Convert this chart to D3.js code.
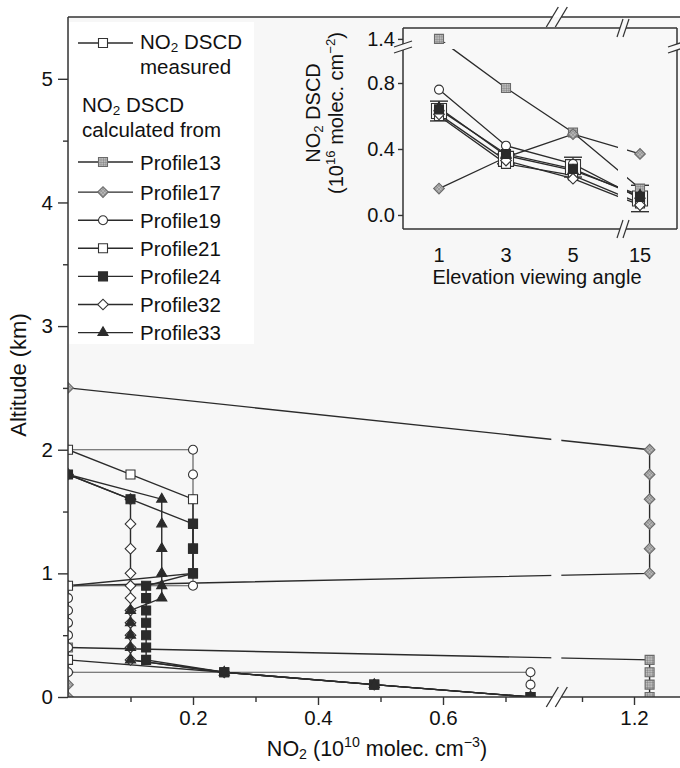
<!DOCTYPE html>
<html>
<head>
<meta charset="utf-8">
<script src="https://cdn.jsdelivr.net/npm/d3@7"></script>
<style>
body { margin: 0; background: #fff; }
text { font-family: "Liberation Sans", Arial, sans-serif; fill: #111; }
</style>
</head>
<body>
<svg id="chart"></svg>
<script>
const profileNames = ["Profile13", "Profile17", "Profile19", "Profile21", "Profile24", "Profile32", "Profile33"];

// NO2 profiles, [concentration (1e10 molec cm-3), altitude (km)]
const profile13 = [[0, 0.4], [1.23, 0.3], [1.23, 0.2], [1.23, 0.1], [1.23, 0]];
const profile17 = [[0, 2.5], [1.23, 2.0], [1.23, 1.8], [1.23, 1.6], [1.23, 1.4], [1.23, 1.2], [1.23, 1.0], [0, 0.9], [0, 0.2], [0, 0.1], [0, 0]];
const profile19 = [[0, 2.0], [0.2, 2.0], [0.2, 1.8], [0.2, 1.6], [0.2, 1.4], [0.2, 1.2], [0.2, 1.0], [0.2, 0.9], [0, 0.9], [0, 0.8], [0, 0.7], [0, 0.6], [0, 0.5], [0, 0.4], [0, 0.3], [0, 0.2], [0.74, 0.2], [0.74, 0.1], [0.74, 0]];
const profile21 = [[0, 2.0], [0.1, 1.8], [0.2, 1.6], [0.2, 1.4], [0.2, 1.2], [0.2, 1.0], [0, 0.9], [0, 0.3], [0.25, 0.2], [0.49, 0.1], [0.74, 0]];
const profile24 = [[0, 1.8], [0.1, 1.6], [0.2, 1.4], [0.2, 1.2], [0.2, 1.0], [0.125, 0.9], [0.125, 0.8], [0.125, 0.7], [0.125, 0.6], [0.125, 0.5], [0.125, 0.4], [0.125, 0.3], [0.25, 0.2], [0.49, 0.1], [0.74, 0]];
const profile32 = [[0, 1.8], [0.1, 1.6], [0.1, 1.4], [0.1, 1.2], [0.1, 1.0], [0.1, 0.9], [0.1, 0.8], [0.1, 0.7], [0.1, 0.6], [0.1, 0.5], [0.1, 0.4], [0.1, 0.3], [0.25, 0.2], [0.49, 0.1], [0.74, 0]];
const profile33 = [[0, 1.8], [0.15, 1.6], [0.15, 1.4], [0.15, 1.2], [0.15, 1.0], [0.15, 0.9], [0.15, 0.8], [0.1, 0.7], [0.1, 0.6], [0.1, 0.5], [0.1, 0.4], [0.1, 0.3], [0.25, 0.2], [0.49, 0.1], [0.74, 0]];

const xMajor = [0.2, 0.4, 0.6, 1.2];
const xMinor = [0.1, 0.3, 0.5, 0.7, 1.1];
const yMajor = [0, 1, 2, 3, 4, 5];
const yMinor = [0.5, 1.5, 2.5, 3.5, 4.5];

// inset: NO2 DSCD (1e16 molec cm-2) per elevation angle
const angles = ["1", "3", "5", "15"];
const dscdMeasured = [0.63, 0.34, 0.29, 0.10];
const dscdError = [0.06, 0.03, 0.06, 0.08];
const dscd13 = [1.40, 0.77, 0.50, 0.16];
const dscd17 = [0.16, 0.35, 0.49, 0.37];
const dscd19 = [0.76, 0.42, 0.31, 0.10];
const dscd21 = [0.60, 0.31, 0.24, 0.07];
const dscd24 = [0.64, 0.37, 0.28, 0.11];
const dscd32 = [0.61, 0.33, 0.22, 0.06];
const dscd33 = [0.65, 0.36, 0.27, 0.12];
const insetTicks = [0, 0.4, 0.8, 1.4];

const profiles = [profile13, profile17, profile19, profile21, profile24, profile32, profile33];
const dscds = [dscd13, dscd17, dscd19, dscd21, dscd24, dscd32, dscd33];
const drawOrder = [0, 1, 2, 3, 5, 4, 6];

const W = 680, H = 768;
const plotBg = "#f7f7f7", ink = "#2b2b2b";

const svg = d3.select("#chart").attr("width", W).attr("height", H);
const defs = svg.append("defs");

let pat = defs.append("pattern").attr("id", "grid")
    .attr("patternUnits", "userSpaceOnUse").attr("width", 2.4).attr("height", 2.4);
pat.append("rect").attr("width", 2.4).attr("height", 2.4).attr("fill", "#bcbcbc");
pat.append("path").attr("d", "M0,0H2.4M0,0V2.4").attr("stroke", "#707070").attr("stroke-width", 0.7);

const markerStyle = {
    Profile13: { shape: "square", fill: "url(#grid)", stroke: "#6a6a6a" },
    Profile17: { shape: "diamond", fill: "url(#grid)", stroke: "#6a6a6a" },
    Profile19: { shape: "circle", fill: "#fff", stroke: "#333" },
    Profile21: { shape: "square", fill: "#fff", stroke: "#333" },
    Profile24: { shape: "square", fill: ink, stroke: ink },
    Profile32: { shape: "diamond", fill: "#fff", stroke: "#333" },
    Profile33: { shape: "triangle", fill: ink, stroke: ink }
};

function symbolPath(shape, s) {
    if (shape == "circle") return d3.symbol(d3.symbolCircle, Math.PI * s * s / 4)();
    if (shape == "square") return d3.symbol(d3.symbolSquare, s * s)();
    if (shape == "diamond") return d3.symbol(d3.symbolSquare, s * s * 0.7)();
    return d3.symbol(d3.symbolTriangle, s * s * 0.55)();
}

function marker(g, st, x, y, s) {
    return g.append("path")
        .attr("d", symbolPath(st.shape, s))
        .attr("transform", "translate(" + x + "," + y + ")" + (st.shape == "diamond" ? " rotate(45)" : ""))
        .attr("fill", st.fill)
        .attr("stroke", st.stroke)
        .attr("stroke-width", 1.1);
}

function rich(sel, parts, fs) {
    let shift = 0;
    parts.forEach(p => {
        const t = sel.append("tspan").text(p[0]);
        let target = p[1] == "sub" ? fs * 0.15 : p[1] == "sup" ? -fs * 0.42 : 0;
        if (target != shift) t.attr("dy", target - shift);
        shift = target;
        if (p[1]) t.attr("font-size", fs * 0.66);
    });
    return sel;
}

// ---------- main plot ----------
const pLeft = 68, pTop = 17, pBottom = 697, pRight = 680;
const x = d3.scaleLinear().domain([0, 0.78, 1.08, 1.3]).range([68, 555.5, 571.6, 686]);
const y = d3.scaleLinear().domain([0, 5.5]).range([pBottom, pTop]);
const brk = x(0.795);

defs.append("clipPath").attr("id", "plotClip").append("rect")
    .attr("x", pLeft).attr("y", pTop).attr("width", pRight - pLeft).attr("height", pBottom - pTop);

svg.append("rect").attr("x", pLeft).attr("y", pTop).attr("width", pRight - pLeft).attr("height", pBottom - pTop)
    .attr("fill", plotBg);

const plot = svg.append("g").attr("clip-path", "url(#plotClip)");
const line = d3.line().x(d => x(d[0])).y(d => y(d[1]));

plot.selectAll(".prof")
    .data(profiles)
    .enter().append("path")
    .attr("d", line)
    .attr("fill", "none")
    .attr("stroke", (d, i) => i == 2 ? "#555" : ink)
    .attr("stroke-width", (d, i) => i == 2 ? 1.1 : 1.4);

// gap in the lines at the axis break
plot.append("rect").attr("x", brk - 5).attr("y", pTop).attr("width", 10).attr("height", pBottom - pTop)
    .attr("fill", plotBg);

drawOrder.forEach(i => {
    const st = markerStyle[profileNames[i]];
    profiles[i].forEach(p => marker(plot, st, x(p[0]), y(p[1]), 9));
});

// axes
const axisG = svg.append("g");
axisG.append("g").attr("transform", "translate(0," + pBottom + ")")
    .call(d3.axisBottom(x).tickValues(xMajor).tickSize(8).tickPadding(5).tickFormat(d3.format(".1f")));
axisG.append("g").attr("transform", "translate(0," + pBottom + ")")
    .call(d3.axisBottom(x).tickValues(xMinor).tickSize(5).tickFormat(""));
axisG.append("g").attr("transform", "translate(" + pLeft + ",0)")
    .call(d3.axisLeft(y).tickValues(yMajor).tickSize(10).tickPadding(5).tickFormat(d3.format("d")));
axisG.append("g").attr("transform", "translate(" + pLeft + ",0)")
    .call(d3.axisLeft(y).tickValues(yMinor).tickSize(5).tickFormat(""));
axisG.selectAll(".domain").remove();
axisG.selectAll(".tick line").attr("stroke", "#333").attr("stroke-width", 1.4);
axisG.selectAll(".tick text").attr("font-size", 20.5).attr("fill", "#111")
    .attr("font-family", "'Liberation Sans', Arial, sans-serif");

const frame = svg.append("g").attr("stroke", "#333").attr("stroke-width", 1.5).attr("fill", "none");
frame.append("line").attr("x1", pLeft).attr("x2", pLeft).attr("y1", pTop).attr("y2", pBottom);
[pBottom, pTop].forEach(yy => {
    frame.append("line").attr("x1", pLeft).attr("x2", brk - 4).attr("y1", yy).attr("y2", yy);
    frame.append("line").attr("x1", brk + 5).attr("x2", pRight).attr("y1", yy).attr("y2", yy);
    [-4, 5].forEach(o => {
        frame.append("line").attr("x1", brk + o - 6).attr("y1", yy + 10)
            .attr("x2", brk + o + 6).attr("y2", yy - 10).attr("stroke-width", 1.3);
    });
});

rich(svg.append("text").attr("x", 377).attr("y", 756).attr("text-anchor", "middle").attr("font-size", 21.5),
    [["NO", ""], ["2", "sub"], [" (10", ""], ["10", "sup"], [" molec. cm", ""], ["\u22123", "sup"], [")", ""]], 21.5);

svg.append("text").attr("transform", "translate(26,375) rotate(-90)")
    .attr("text-anchor", "middle").attr("font-size", 22).text("Altitude (km)");

// ---------- legend ----------
const leg = svg.append("g");
leg.append("rect").attr("x", pLeft + 1).attr("y", pTop + 5).attr("width", 185).attr("height", 322).attr("fill", "#fff");
const lfs = 20.5;

function legendLine(yy, st) {
    leg.append("line").attr("x1", 78).attr("x2", 133).attr("y1", yy).attr("y2", yy)
        .attr("stroke", ink).attr("stroke-width", 1.4);
    marker(leg, st, 103, yy, 9);
}
legendLine(43, markerStyle.Profile21);
rich(leg.append("text").attr("x", 140).attr("y", 49).attr("font-size", lfs),
    [["NO", ""], ["2", "sub"], [" DSCD", ""]], lfs);
leg.append("text").attr("x", 140).attr("y", 74).attr("font-size", lfs).text("measured");
rich(leg.append("text").attr("x", 82).attr("y", 112).attr("font-size", lfs),
    [["NO", ""], ["2", "sub"], [" DSCD", ""]], lfs);
leg.append("text").attr("x", 82).attr("y", 137).attr("font-size", lfs).text("calculated from");

profileNames.forEach((name, i) => {
    const yy = 162 + i * 28.1 + (i > 0 ? 2 : 0);
    legendLine(yy, markerStyle[name]);
    leg.append("text").attr("x", 140).attr("y", yy + 7.5).attr("font-size", lfs).text(name);
});

// ---------- inset ----------
const iL = 403, iR = 677, iT = 28, iB = 229;
const ix = d3.scalePoint().domain(angles).range([439, 640]);
const iy = d3.scaleLinear().domain([-0.085, 1.0, 1.36, 1.465]).range([iB, 50, 45.6, iT]);
const iBrkX = 623, iBrkY = 47;
const inset = svg.append("g");
inset.append("rect").attr("x", iL).attr("y", iT).attr("width", iR - iL).attr("height", iB - iT)
    .attr("fill", "#f8f8f8");

const iline = d3.line().x((d, i) => ix(angles[i])).y(d => iy(d));
inset.selectAll(".dl")
    .data(dscds)
    .enter().append("path")
    .attr("d", iline)
    .attr("fill", "none").attr("stroke", ink).attr("stroke-width", 1.3);

inset.append("rect").attr("x", iBrkX - 5).attr("y", iT + 1).attr("width", 9).attr("height", iB - iT - 2)
    .attr("fill", "#f8f8f8");
inset.append("rect").attr("x", iL + 1).attr("y", iBrkY - 4).attr("width", iR - iL - 2).attr("height", 6)
    .attr("fill", "#f8f8f8");

// measured with error bars
dscdMeasured.forEach((v, i) => {
    const cx = ix(angles[i]);
    const e = dscdError[i];
    inset.append("line").attr("x1", cx).attr("x2", cx).attr("y1", iy(v - e)).attr("y2", iy(v + e))
        .attr("stroke", "#333").attr("stroke-width", 1.2);
    [v - e, v + e].forEach(c => {
        inset.append("line").attr("x1", cx - 9).attr("x2", cx + 9).attr("y1", iy(c)).attr("y2", iy(c))
            .attr("stroke", "#333").attr("stroke-width", 1.4);
    });
    marker(inset, markerStyle.Profile21, cx, iy(v), 15);
});

drawOrder.forEach(k => {
    const st = markerStyle[profileNames[k]];
    dscds[k].forEach((v, i) => marker(inset, st, ix(angles[i]), iy(v), 9));
});

const ibox = inset.append("g").attr("stroke", "#333").attr("stroke-width", 1.5).attr("fill", "none");
ibox.append("line").attr("x1", iL).attr("x2", iBrkX - 3).attr("y1", iT).attr("y2", iT);
ibox.append("line").attr("x1", iBrkX + 3).attr("x2", iR).attr("y1", iT).attr("y2", iT);
ibox.append("line").attr("x1", iL).attr("x2", iBrkX - 3).attr("y1", iB).attr("y2", iB);
ibox.append("line").attr("x1", iBrkX + 3).attr("x2", iR).attr("y1", iB).attr("y2", iB);
[iL, iR].forEach(xx => {
    ibox.append("line").attr("x1", xx).attr("x2", xx).attr("y1", iT).attr("y2", iBrkY - 3);
    ibox.append("line").attr("x1", xx).attr("x2", xx).attr("y1", iBrkY + 3).attr("y2", iB);
    [-3, 3].forEach(o => ibox.append("line").attr("x1", xx - 9).attr("y1", iBrkY + o + 3)
        .attr("x2", xx + 9).attr("y2", iBrkY + o - 3).attr("stroke-width", 1.2));
});
[iT, iB].forEach(yy => {
    [-3, 3].forEach(o => ibox.append("line").attr("x1", iBrkX + o - 3).attr("y1", yy + 9)
        .attr("x2", iBrkX + o + 3).attr("y2", yy - 9).attr("stroke-width", 1.2));
});

const iax = inset.append("g").attr("transform", "translate(" + iL + ",0)")
    .call(d3.axisLeft(iy).tickValues(insetTicks).tickSize(5).tickPadding(3).tickFormat(d3.format(".1f")));
iax.select(".domain").remove();
iax.selectAll(".tick line").attr("stroke", "#333").attr("stroke-width", 1.4);
iax.selectAll(".tick text").attr("font-size", 20).attr("fill", "#111")
    .attr("font-family", "'Liberation Sans', Arial, sans-serif");

inset.selectAll(".ixl")
    .data(angles)
    .enter().append("text")
    .attr("x", d => ix(d)).attr("y", 262)
    .attr("text-anchor", "middle").attr("font-size", 20)
    .text(d => d);
inset.append("text").attr("x", 537).attr("y", 284).attr("text-anchor", "middle")
    .attr("font-size", 20).text("Elevation viewing angle");

rich(inset.append("text").attr("transform", "translate(320,113) rotate(-90)")
    .attr("text-anchor", "middle").attr("font-size", 20),
    [["NO", ""], ["2", "sub"], [" DSCD", ""]], 20);
rich(inset.append("text").attr("transform", "translate(343,113) rotate(-90)")
    .attr("text-anchor", "middle").attr("font-size", 20),
    [["(10", ""], ["16", "sup"], [" molec. cm", ""], ["\u22122", "sup"], [")", ""]], 20);
</script>
</body>
</html>
